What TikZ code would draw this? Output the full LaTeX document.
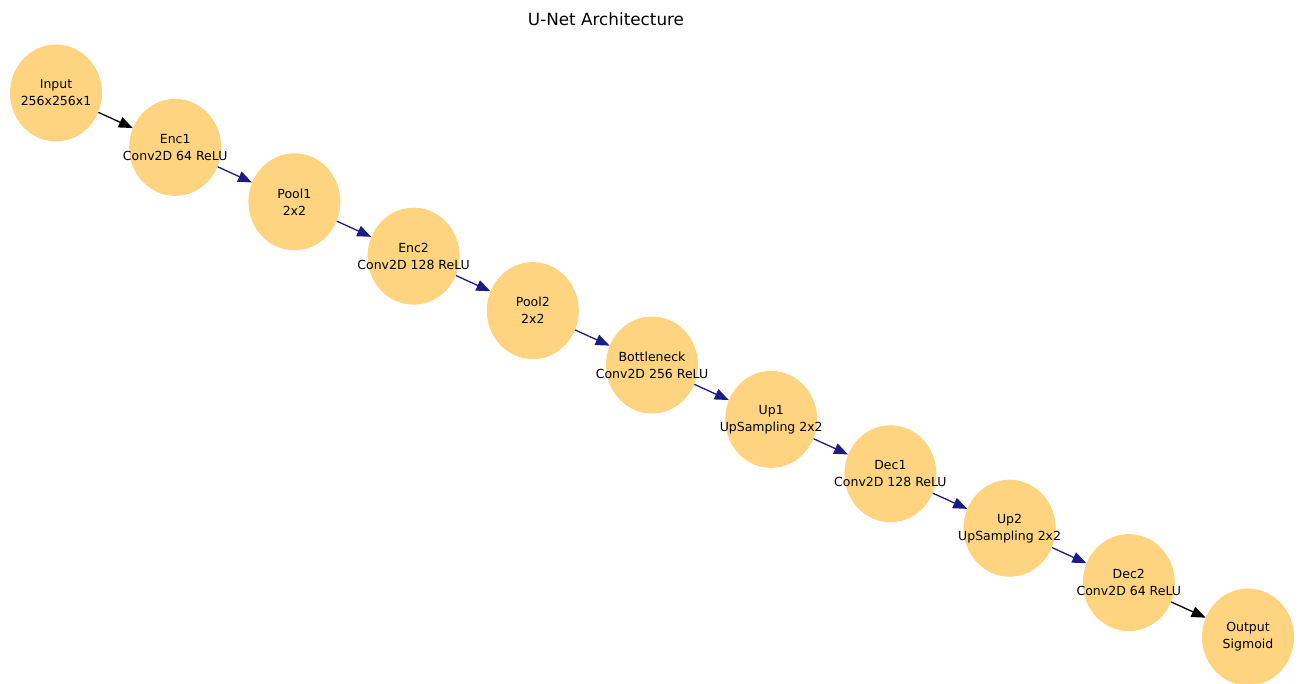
\documentclass[tikz,border=0pt]{standalone}
\usepackage{fontspec}
\setmainfont{DejaVu Sans}
\usetikzlibrary{arrows.meta,shapes.geometric}
\definecolor{nodefill}{RGB}{254,212,128}
\definecolor{linkblue}{RGB}{28,28,135}
\begin{document}
\begin{tikzpicture}[x=1pt,y=-1pt,
  layer/.style={ellipse, fill=nodefill, minimum width=92pt, minimum height=97pt,
    inner sep=0pt, label={[align=center, font=\fontsize{12.5}{17}\selectfont]center:#1}},
  link/.style={line width=1.3pt, -{Triangle[length=14pt,width=11pt]}},
  edgeblack/.style={link, draw=black},
  edgeblue/.style={link, draw=linkblue}]
\useasboundingbox (0,0) rectangle (1300,684);
\node[font=\fontsize{16.8}{20}\selectfont] (title) at (606,19) {U-Net Architecture};
% layer chain, placed on a straight diagonal; the ellipse keeps a fixed size
\node[layer={Input\\256x256x1}]          (in)    at (56,93)        {};
\node[layer={Enc1\\Conv2D 64 ReLU}]      (enc1)  at (175.2,147.4)  {};
\node[layer={Pool1\\2x2}]                (pool1) at (294.4,201.8)  {};
\node[layer={Enc2\\Conv2D 128 ReLU}]     (enc2)  at (413.6,256.2)  {};
\node[layer={Pool2\\2x2}]                (pool2) at (532.8,310.6)  {};
\node[layer={Bottleneck\\Conv2D 256 ReLU}] (bott) at (652,365)     {};
\node[layer={Up1\\UpSampling 2x2}]       (up1)   at (771.2,419.4)  {};
\node[layer={Dec1\\Conv2D 128 ReLU}]     (dec1)  at (890.4,473.8)  {};
\node[layer={Up2\\UpSampling 2x2}]       (up2)   at (1009.6,528.2) {};
\node[layer={Dec2\\Conv2D 64 ReLU}]      (dec2)  at (1128.8,582.6) {};
\node[layer={Output\\Sigmoid}]           (out)   at (1248,637)     {};
% connectors
\draw[edgeblack] (in) -- (enc1);
\draw[edgeblue] (enc1) -- (pool1);
\draw[edgeblue] (pool1) -- (enc2);
\draw[edgeblue] (enc2) -- (pool2);
\draw[edgeblue] (pool2) -- (bott);
\draw[edgeblue] (bott) -- (up1);
\draw[edgeblue] (up1) -- (dec1);
\draw[edgeblue] (dec1) -- (up2);
\draw[edgeblue] (up2) -- (dec2);
\draw[edgeblack] (dec2) -- (out);
\end{tikzpicture}
\end{document}
